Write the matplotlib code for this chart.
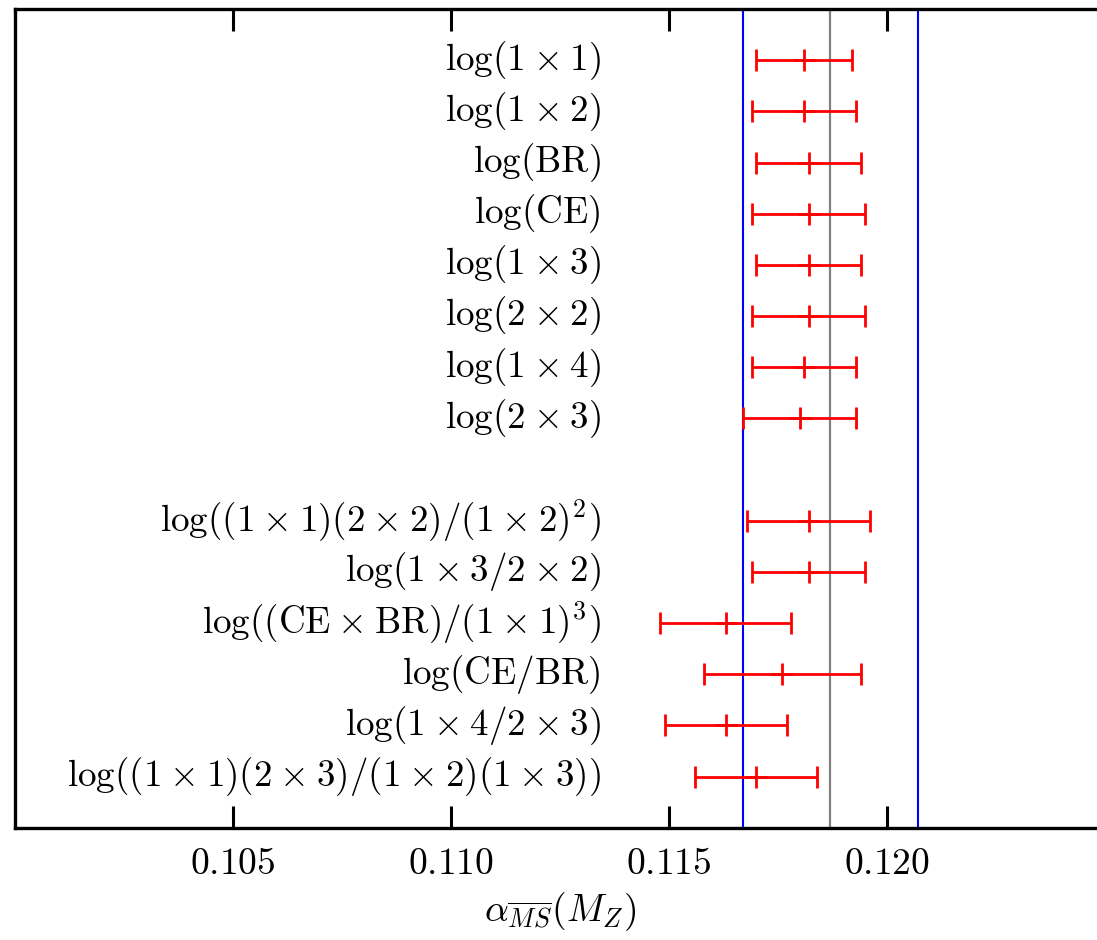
import numpy as np
import matplotlib
matplotlib.use('Agg')
import matplotlib.pyplot as plt

plt.rcParams['mathtext.fontset'] = 'cm'
plt.rcParams['font.family'] = 'serif'

X = r'\hspace{0.04}\times\hspace{0.04}'
labels = [r'$\log(1' + X + r'1)$',
          r'$\log(1' + X + r'2)$',
          r'$\log(\mathrm{BR})$',
          r'$\log(\mathrm{CE})$',
          r'$\log(1' + X + r'3)$',
          r'$\log(2' + X + r'2)$',
          r'$\log(1' + X + r'4)$',
          r'$\log(2' + X + r'3)$',
          r'$\log((1' + X + r'1)(2' + X + r'2)/(1' + X + r'2)^2)$',
          r'$\log(1' + X + r'3/2' + X + r'2)$',
          r'$\log((\mathrm{CE}' + X + r'\mathrm{BR})/(1' + X + r'1)^3)$',
          r'$\log(\mathrm{CE}/\mathrm{BR})$',
          r'$\log(1' + X + r'4/2' + X + r'3)$',
          r'$\log((1' + X + r'1)(2' + X + r'3)/(1' + X + r'2)(1' + X + r'3))$']
ypos = [1, 2, 3, 4, 5, 6, 7, 8, 10, 11, 12, 13, 14, 15]
alpha = [0.1181, 0.1181, 0.1182, 0.1182, 0.1182, 0.1182, 0.1181, 0.1180,
         0.1182, 0.1182, 0.1163, 0.1176, 0.1163, 0.1170]
err = [0.0011, 0.0012, 0.0012, 0.0013, 0.0012, 0.0013, 0.0012, 0.0013,
       0.0014, 0.0013, 0.0015, 0.0018, 0.0014, 0.0014]

world_avg = 0.1187
world_err = 0.0020

fig = plt.figure(figsize=(10.97, 9.40), dpi=100)
ax = fig.add_axes([15/1097, 112.3/940, 1090/1097, 818.7/940])

ax.axvline(world_avg, color='grey', lw=1.6, zorder=1)
ax.axvline(world_avg - world_err, color='blue', lw=1.5, zorder=1)
ax.axvline(world_avg + world_err, color='blue', lw=1.5, zorder=1)

ax.errorbar(alpha, ypos, xerr=err, fmt='+', color='red', ms=16, mew=2,
            elinewidth=2, capsize=8, capthick=2, zorder=3)

for y, lab in zip(ypos, labels):
    ax.text(0.11343, y, lab, ha='right', va='center', fontsize=26.7)

ax.set_xlim(0.100, 0.125)
ax.set_ylim(16, 0)
ax.set_xticks([0.105, 0.110, 0.115, 0.120])
ax.set_xticklabels([r'$0.105$', r'$0.110$', r'$0.115$', r'$0.120$'], fontsize=27)
ax.set_yticks([])
ax.tick_params(axis='x', direction='in', length=16, width=2.2, top=True, pad=13)
for s in ax.spines.values():
    s.set_linewidth(2.4)
ax.set_xlabel(r'$\alpha_{\overline{MS}}(M_Z)$', fontsize=27, labelpad=6)

fig.savefig('out.png', dpi=100)
